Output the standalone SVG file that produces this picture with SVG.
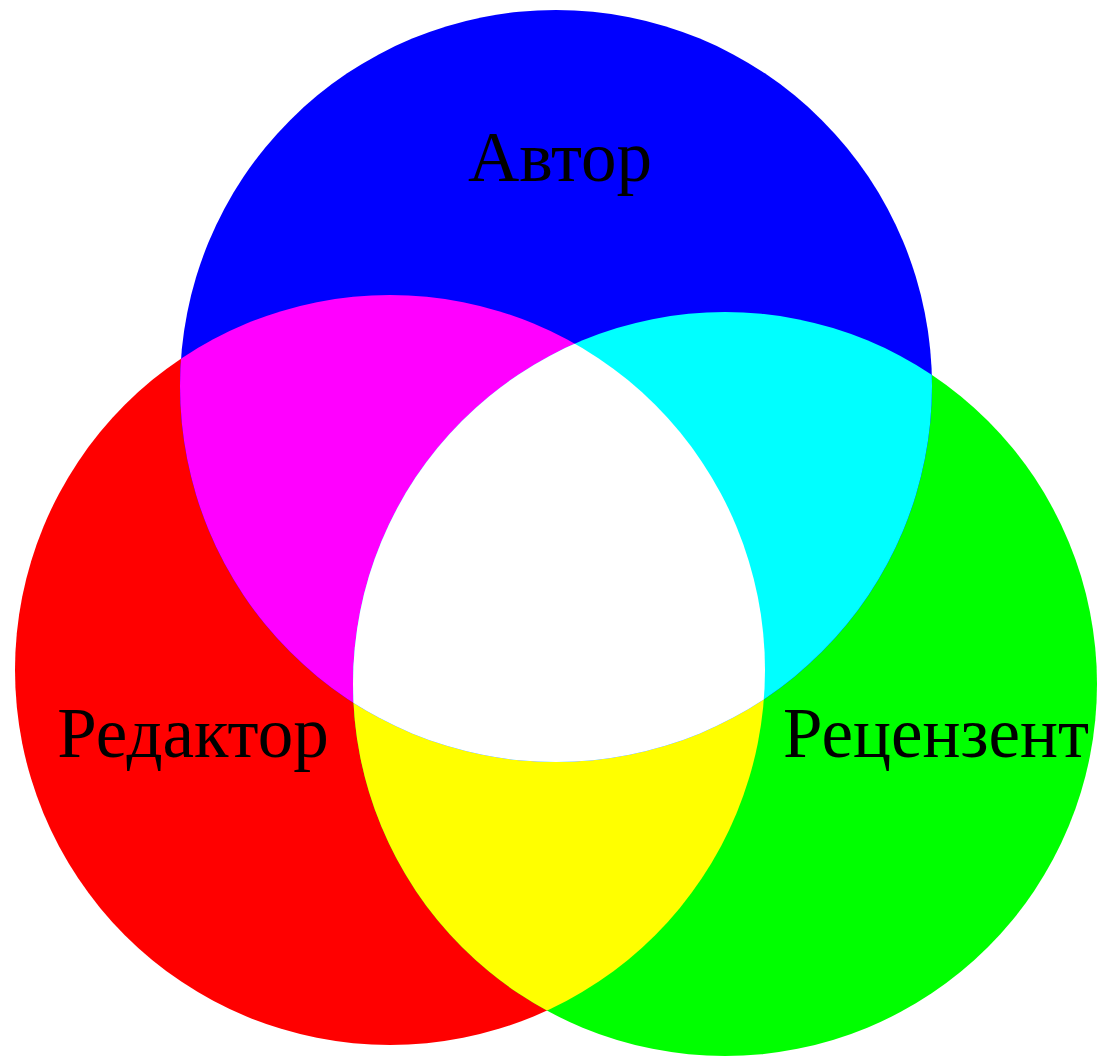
<svg xmlns="http://www.w3.org/2000/svg" width="1097" height="1058" viewBox="0 0 1097 1058">
<style>
text{font-family:"Liberation Serif","DejaVu Serif",serif;font-size:71px;fill:#000}
</style>
<defs>
<circle id="cr" cx="390" cy="670" r="375"/>
<circle id="cg" cx="725" cy="684" r="372"/>
<circle id="cb" cx="556" cy="386" r="376"/>
<clipPath id="kr"><use href="#cr"/></clipPath>
<clipPath id="kg"><use href="#cg"/></clipPath>
</defs>
<rect width="1097" height="1058" fill="#fff"/>
<g id="redaktor">
<use href="#cr" fill="#ff0000"/>
</g>
<g id="recenzent">
<use href="#cg" fill="#00ff00"/>
</g>
<g id="avtor">
<use href="#cb" fill="#0000ff"/>
</g>
<g id="overlaps">
<g clip-path="url(#kr)"><use href="#cg" fill="#ffff00"/></g>
<g clip-path="url(#kr)"><use href="#cb" fill="#ff00ff"/></g>
<g clip-path="url(#kg)"><use href="#cb" fill="#00ffff"/></g>
<g clip-path="url(#kr)"><g clip-path="url(#kg)"><use href="#cb" fill="#ffffff"/></g></g>
</g>
<g id="labels">
<text x="560" y="181" text-anchor="middle">Автор</text>
<text x="193" y="757" text-anchor="middle">Редактор</text>
<text x="936" y="757" text-anchor="middle">Рецензент</text>
</g>
<g id="connectors"/>
</svg>
